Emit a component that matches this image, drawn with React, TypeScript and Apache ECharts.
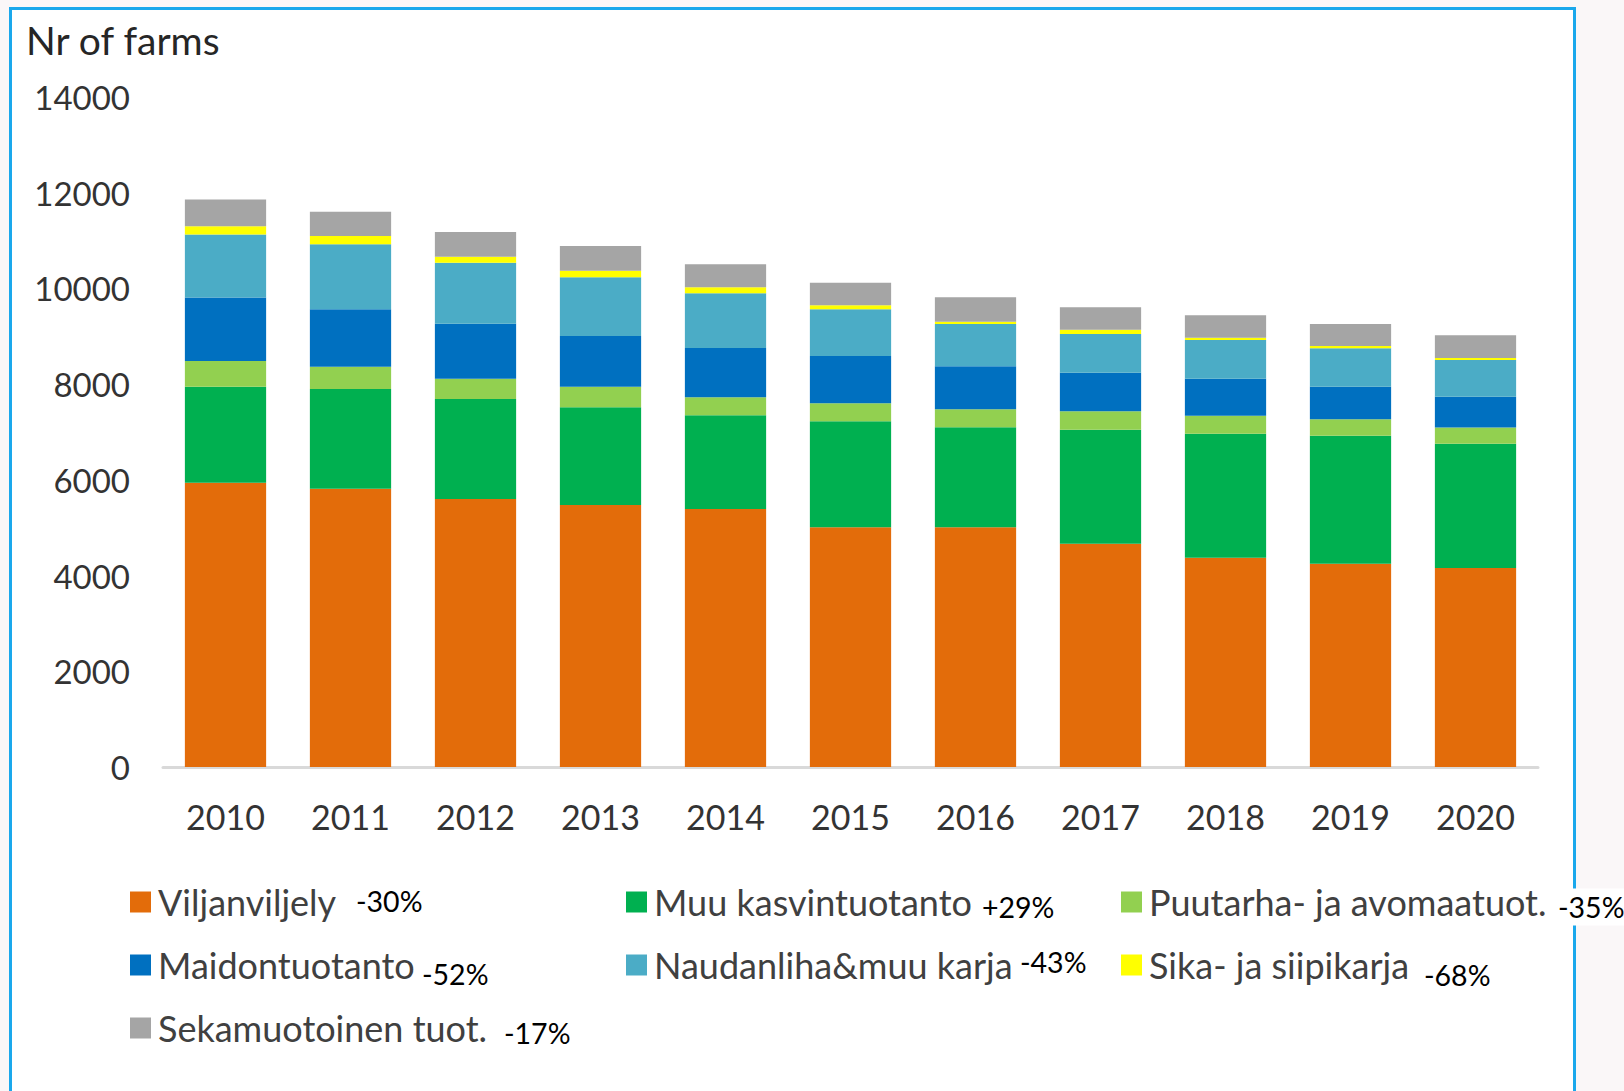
import React, { useEffect, useRef } from "react";
import * as echarts from "echarts";

const years = ["2010", "2011", "2012", "2013", "2014", "2015", "2016", "2017", "2018", "2019", "2020"];
const viljanviljely = [5940, 5815, 5600, 5474, 5391, 5010, 5010, 4666, 4373, 4248, 4158];
const muuKasvintuotanto = [2006, 2083, 2089, 2041, 1957, 2213, 2088, 2382, 2591, 2674, 2597];
const puutarha = [540, 466, 424, 431, 377, 376, 376, 384, 376, 343, 340];
const maidontuotanto = [1325, 1199, 1149, 1060, 1030, 989, 898, 807, 773, 681, 641];
const naudanliha = [1316, 1358, 1275, 1226, 1143, 975, 884, 808, 809, 802, 767];
const sika = [174, 174, 126, 138, 125, 84, 48, 90, 48, 49, 45];
const sekamuotoinen = [558, 508, 515, 516, 480, 472, 510, 468, 468, 459, 473];

const seriesNames = [
  "Viljanviljely",
  "Muu kasvintuotanto",
  "Puutarha- ja avomaatuot.",
  "Maidontuotanto",
  "Naudanliha&muu karja",
  "Sika- ja siipikarja",
  "Sekamuotoinen tuot.",
];
const seriesColors = ["#E36C0A", "#00B050", "#92D050", "#0070C0", "#4BACC6", "#FFFF00", "#A5A5A5"];
const seriesData = [viljanviljely, muuKasvintuotanto, puutarha, maidontuotanto, naudanliha, sika, sekamuotoinen];
const changeLabels = ["-30%", "+29%", "-35%", "-52%", "-43%", "-68%", "-17%"];
const yTicks = { min: 0, max: 14000, interval: 2000 };

const FONT = "Lato";

export default function App() {
  const ref = useRef<HTMLDivElement>(null);
  useEffect(() => {
    if (!ref.current) return;
    const chart = echarts.init(ref.current, undefined, { renderer: "svg" });
    const legendText = { fontFamily: FONT, fontSize: 36, color: "#404040", padding: [0, 0, 0, 2] };
    const legendCommon = {
      orient: "vertical",
      icon: "rect",
      itemWidth: 21,
      itemHeight: 21,
      itemGap: 27,
      textStyle: legendText,
      selectedMode: false,
    };
    const pctPos = [
      [356, 901],
      [982, 907],
      [1556, 907],
      [422, 974],
      [1020, 962],
      [1424, 975],
      [504, 1033],
    ];
    chart.setOption({
      animation: false,
      backgroundColor: "transparent",
      color: seriesColors,
      grid: { left: 163, right: 86, top: 97, bottom: 324, containLabel: false },
      xAxis: {
        type: "category",
        data: years,
        axisLine: { show: true, lineStyle: { color: "#D9D9D9", width: 3 } },
        axisTick: { show: false },
        axisLabel: { fontFamily: FONT, fontSize: 34, color: "#333333", margin: 32 },
      },
      yAxis: {
        type: "value",
        min: yTicks.min,
        max: yTicks.max,
        interval: yTicks.interval,
        splitLine: { show: false },
        axisLine: { show: false },
        axisTick: { show: false },
        axisLabel: {
          fontFamily: FONT,
          fontSize: 33,
          color: "#333333",
          margin: 33,
          formatter: (v: number) => String(v),
        },
      },
      legend: [
        { ...legendCommon, left: 125, top: 879, data: [seriesNames[0], seriesNames[3], seriesNames[6]] },
        { ...legendCommon, left: 621, top: 879, data: [seriesNames[1], seriesNames[4]] },
        { ...legendCommon, left: 1116, top: 879, data: [seriesNames[2], seriesNames[5]] },
      ],
      series: seriesNames.map((name, i) => ({
        name,
        type: "bar",
        stack: "farms",
        barWidth: "65%",
        data: seriesData[i],
        itemStyle: { color: seriesColors[i] },
      })),
      graphic: [
        {
          type: "text",
          left: 26,
          top: 20,
          style: { text: "Nr of farms", fontFamily: FONT, fontSize: 39, fill: "#262626" },
        },
        ...changeLabels.map((t, i) => ({
          type: "text",
          x: pctPos[i][0],
          y: pctPos[i][1],
          style: {
            text: t,
            fontFamily: FONT,
            fontSize: 28.5,
            fill: "#000000",
            verticalAlign: "middle",
            backgroundColor: i === 2 ? "#FFFFFF" : undefined,
            padding: i === 2 ? [4, 2, 4, 2] : 0,
          },
        })),
      ],
    });
    return () => chart.dispose();
  }, []);
  return (
    <div style={{ position: "fixed", left: 0, top: 0, width: 1624, height: 1091, background: "#FAF7F8", overflow: "hidden" }}>
      <div
        style={{
          position: "absolute",
          left: 9,
          top: 7,
          width: 1561,
          height: 1120,
          border: "3.5px solid #1AA8EC",
          background: "#FFFFFF",
        }}
      />
      <div ref={ref} style={{ position: "absolute", left: 0, top: 0, width: 1624, height: 1091 }} />
    </div>
  );
}
